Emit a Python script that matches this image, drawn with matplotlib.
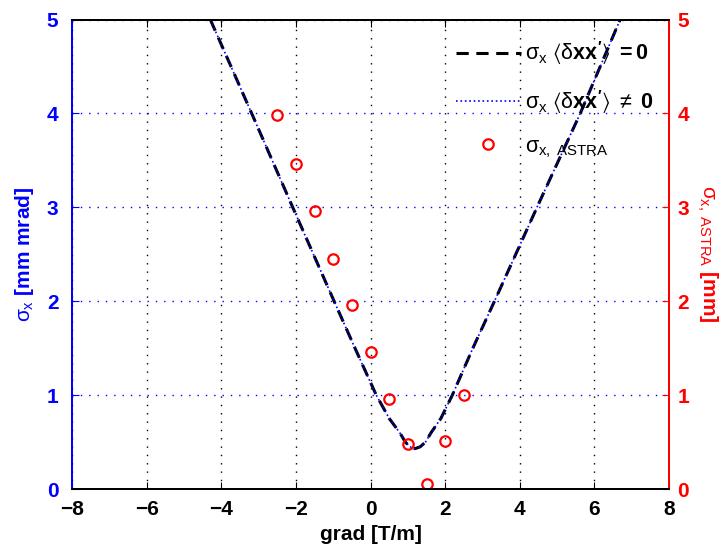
import numpy as np
import matplotlib.pyplot as plt

plt.rcParams['font.family'] = ['Liberation Sans', 'DejaVu Sans']
plt.rcParams['mathtext.fontset'] = 'custom'
plt.rcParams['mathtext.rm'] = 'Liberation Sans'
plt.rcParams['mathtext.it'] = 'Liberation Sans'
plt.rcParams['mathtext.bf'] = 'Liberation Sans:bold'
plt.rcParams['mathtext.fallback'] = 'stixsans'

# envelope curve
grad_curve = [-4.3, -3.19, -2.09, -0.98, -0.42, 0.15, 0.50, 0.78, 0.93, 1.05, 1.19,
              1.33, 1.47, 1.62, 1.88, 2.19, 2.74, 3.32, 4.46, 5.62, 6.69]
sigma_curve = [5.0, 4.0, 3.0, 2.0, 1.5, 1.0, 0.75, 0.6, 0.5, 0.45, 0.43,
               0.45, 0.5, 0.6, 0.75, 1.0, 1.5, 2.0, 3.0, 4.0, 5.0]

# ASTRA points
grad_astra = [-2.5, -2.0, -1.5, -1.0, -0.5, 0.0, 0.5, 1.0, 1.5, 2.0, 2.5]
sigma_astra = [3.98, 3.46, 2.96, 2.45, 1.96, 1.46, 0.96, 0.48, 0.05, 0.51, 1.0]

blue = '#0000ff'
red = '#ff0000'

fig = plt.figure(figsize=(7.28, 5.51), dpi=100)
ax = fig.add_axes([0.0993, 0.1125, 0.8197, 0.8521])
ax2 = ax.twinx()

l1, = ax.plot(grad_curve, sigma_curve, '--', color='black', lw=2.2, dashes=(4, 2.5))
l2, = ax.plot(grad_curve, sigma_curve, ':', color=blue, lw=1.2)
l3, = ax2.plot(grad_astra, sigma_astra, 'o', ls='none', mfc='none', mec=red, ms=7.5, mew=1.6)

labels = [r'$\sigma_x\ \langle\delta\mathbf{xx^{\prime}}\rangle\ \mathbf{= 0}$',
          r'$\sigma_x\ \langle\delta\mathbf{xx^{\prime}}\rangle\ \neq\ \mathbf{0}$',
          r'$\sigma_{x,\ \mathrm{ASTRA}}$']

ax.set_xlim(-8, 8)
ax.set_ylim(0, 5)
ax2.set_ylim(0, 5)
ax.set_xticks(np.arange(-8, 9, 2))
ax.set_yticks(np.arange(0, 6, 1))
ax2.set_yticks(np.arange(0, 6, 1))

ax.grid(True, axis='x', color='black', ls=(0, (1, 5)), lw=1.0)
ax.grid(True, axis='y', color=blue, ls=(0, (1, 5)), lw=1.0)

ax.tick_params(axis='x', direction='in', top=True, labelsize=15, colors='black', length=5, pad=8)
ax.tick_params(axis='y', direction='in', labelsize=15, colors=blue, length=5, pad=10)
ax2.tick_params(axis='y', direction='in', labelsize=15, colors=red, length=5, pad=6)
for lab in ax.get_xticklabels() + ax.get_yticklabels() + ax2.get_yticklabels():
    lab.set_fontweight('bold')

for a in (ax, ax2):
    a.spines['left'].set_color(blue)
    a.spines['right'].set_color(red)
    a.spines['top'].set_color('black')
    a.spines['bottom'].set_color('black')
    for s in a.spines.values():
        s.set_linewidth(1.4)

ax.set_xlabel('grad [T/m]', fontsize=15, fontweight='bold', labelpad=4)
ax.set_ylabel(r'$\sigma_x$ [mm mrad]', fontsize=15, fontweight='bold', color=blue, labelpad=8)
ax2.set_ylabel(r'$\sigma_{x,\ \mathrm{ASTRA}}$ [mm]', fontsize=15, fontweight='bold', color=red,
               rotation=-90, labelpad=22)

ax2.legend([l1, l2, l3], labels,
           loc='upper right', bbox_to_anchor=(1.0, 0.99), frameon=False, fontsize=15.5,
           handlelength=3.0, labelspacing=0.95, borderaxespad=0.3, handletextpad=0.2)

fig.savefig('out.png', dpi=100)
